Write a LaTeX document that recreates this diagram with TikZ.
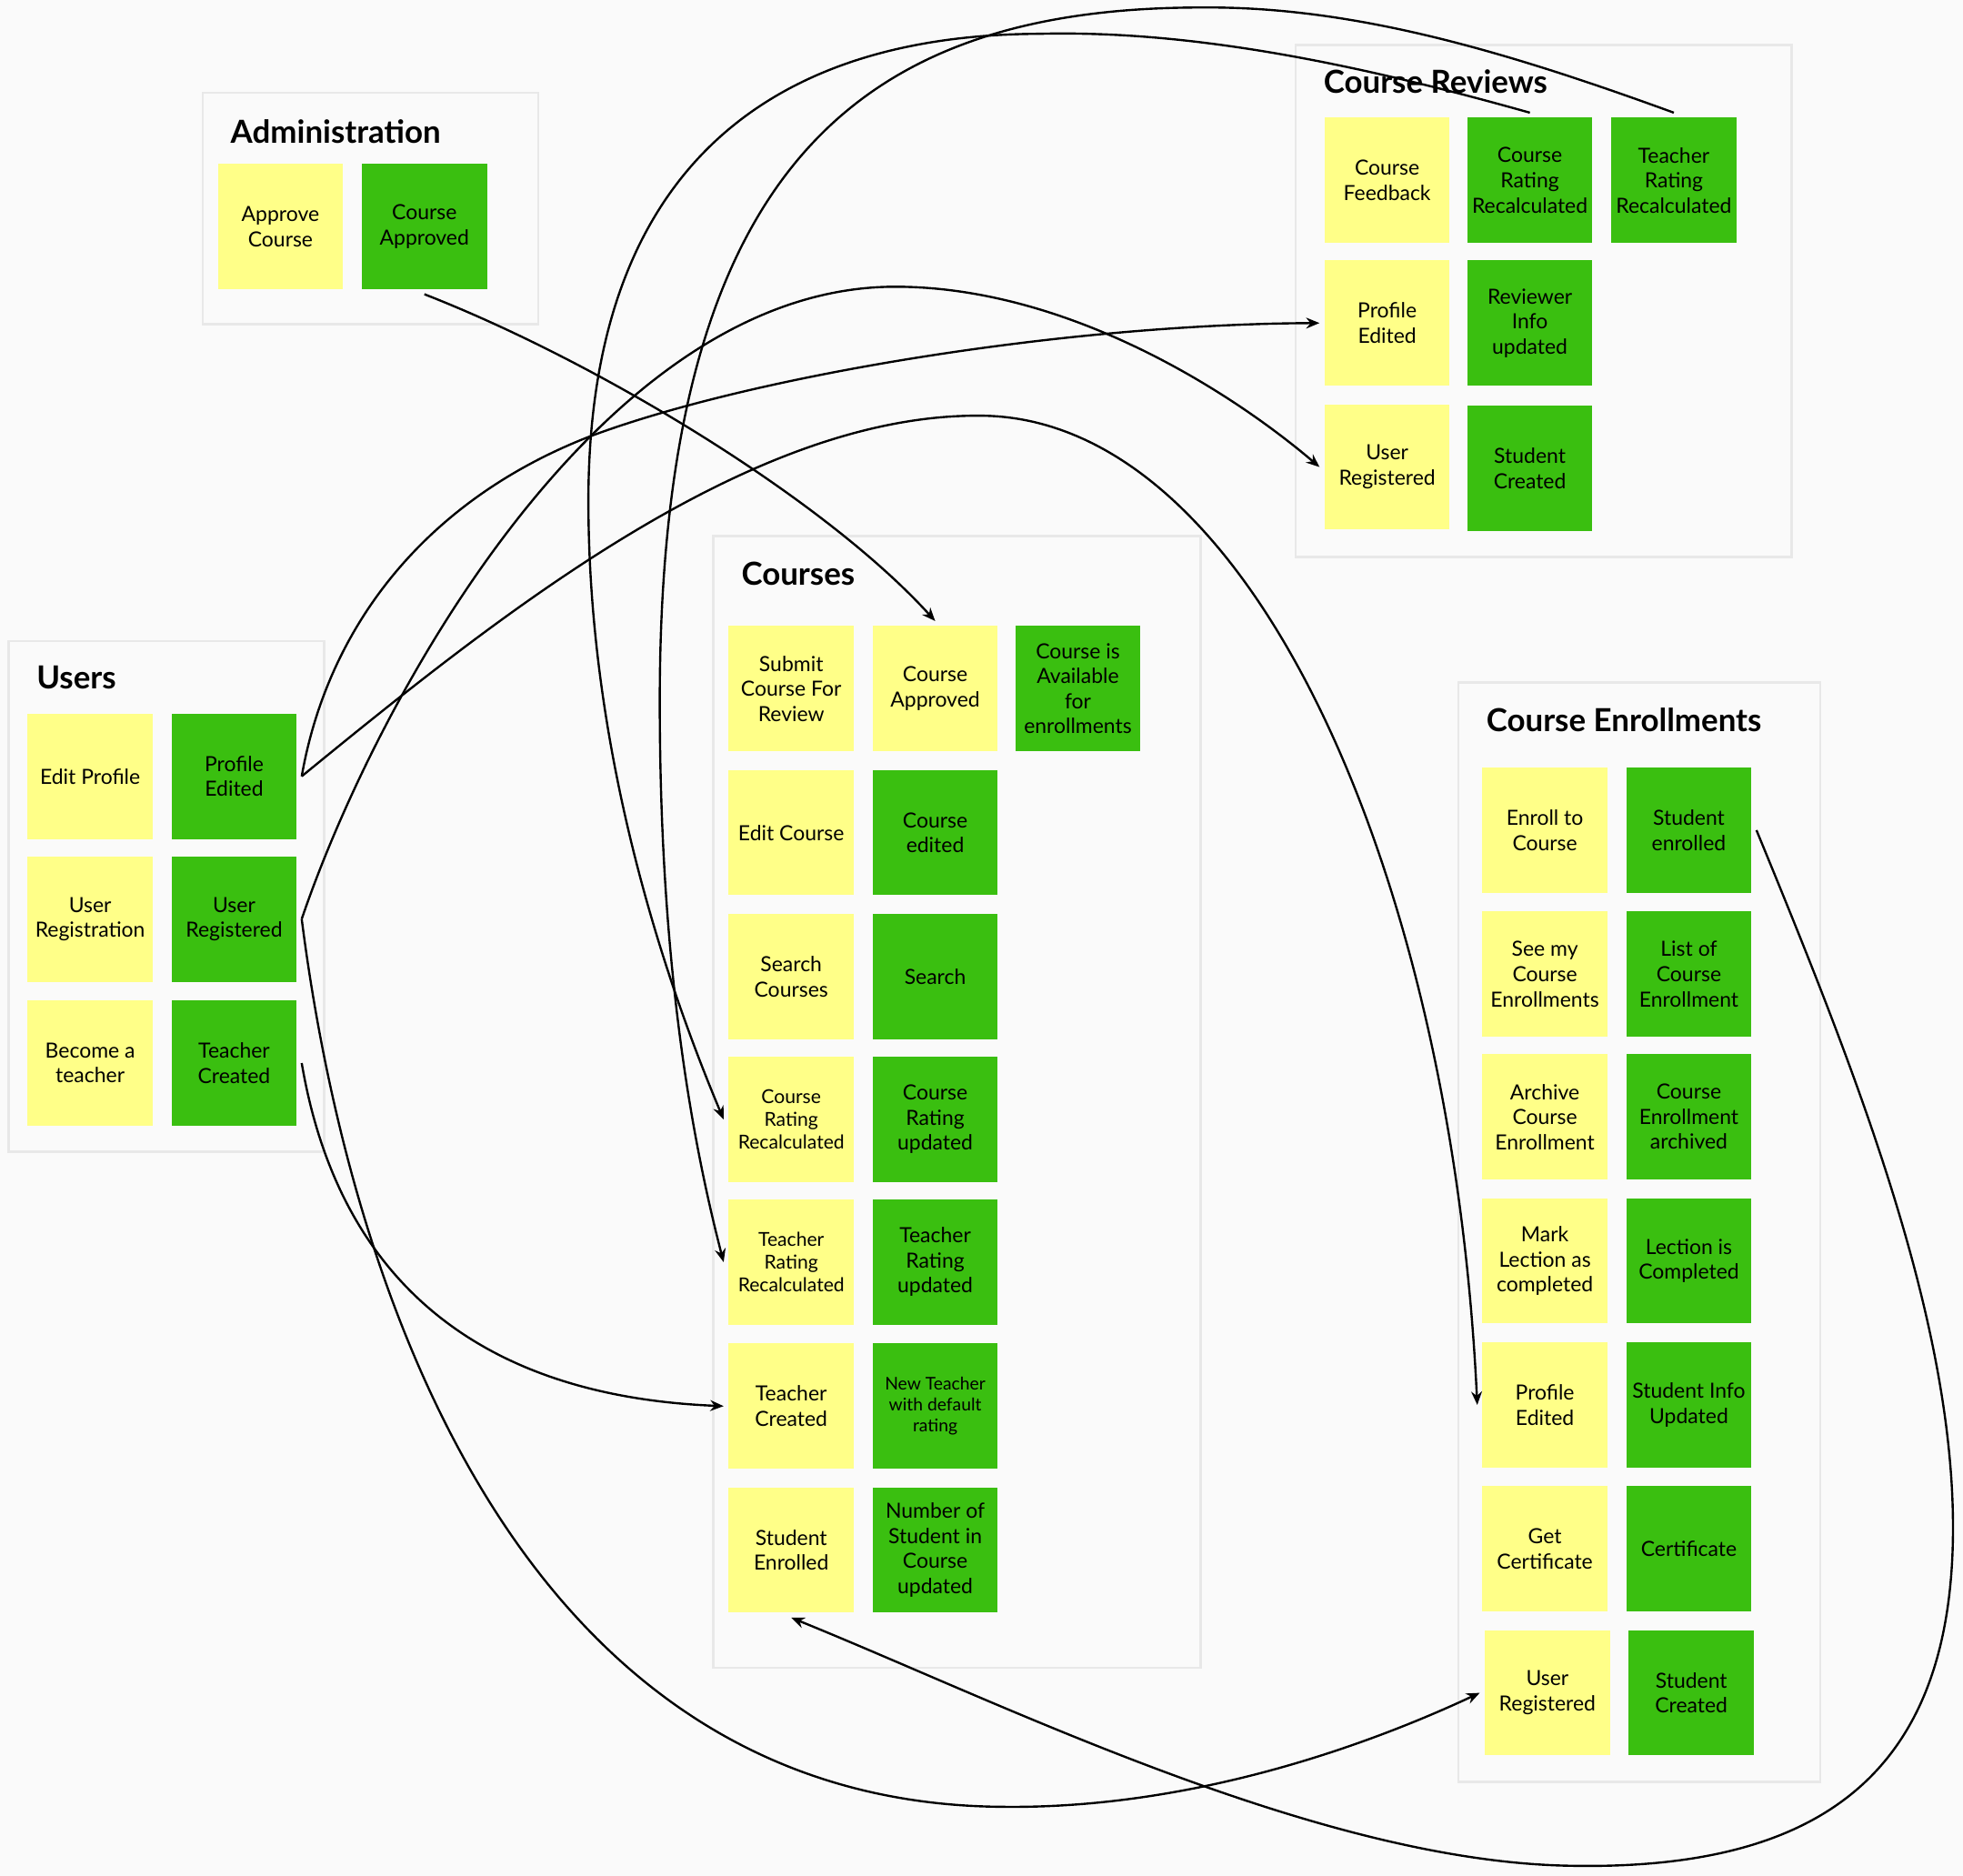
\documentclass[tikz,border=0pt]{standalone}
\usepackage{fontspec}
\setmainfont{Lato}
\usepackage{tikz}
\usetikzlibrary{arrows.meta}

\definecolor{bgcol}{RGB}{250,250,250}
\definecolor{framecol}{RGB}{232,232,232}
\definecolor{stickyyel}{RGB}{255,255,136}
\definecolor{stickygrn}{RGB}{58,191,16}

\tikzset{
  sticky/.style={minimum width=75pt,minimum height=75pt,inner sep=1pt,outer sep=3pt,
    align=center,font=\fontsize{12.5}{15}\selectfont},
  yel/.style={sticky,fill=stickyyel},
  grn/.style={sticky,fill=stickygrn},
  small/.style={font=\fontsize{11.5}{13.5}\selectfont},
  tiny/.style={font=\fontsize{10.5}{12.5}\selectfont},
  groupbox/.style={draw=framecol,line width=1.5pt},
  grouptitle/.style={anchor=west,inner sep=0pt,font=\fontsize{19}{22}\selectfont\bfseries},
  flow/.style={line width=1.3pt,-{Stealth[length=8pt,width=6.5pt]}}
}

\begin{document}
\begin{tikzpicture}[x=0.75pt,y=0.75pt,yscale=-1,xscale=1]
\useasboundingbox[fill=bgcol] (0,0) rectangle (1568,1498);

% Group frames
\draw[groupbox] (162,74) rectangle (430,259);
\draw[groupbox] (1035,36) rectangle (1431,445);
\draw[groupbox] (7,512) rectangle (259,920);
\draw[groupbox] (570,428) rectangle (959,1332);
\draw[groupbox] (1165,545) rectangle (1454,1423);

% Administration
\node[grouptitle] (admtitle) at (184,105) {Administration};
\node[yel] (aapprove) at (224,181) {Approve\\Course};
\node[grn] (aapproved) at (339,181) {Course\\Approved};

% Course Reviews
\node[grouptitle] (revtitle) at (1057,65) {Course Reviews};
\node[yel] (rfeed) at (1108,144) {Course\\Feedback};
\node[grn] (rcrate) at (1222,144) {Course\\Rating\\Recalculated};
\node[grn] (rtrate) at (1337,144) {Teacher\\Rating\\Recalculated};
\node[yel] (rprof) at (1108,258) {Profile\\Edited};
\node[grn] (rinfo) at (1222,258) {Reviewer\\Info\\updated};
\node[yel] (rreg) at (1108,373) {User\\Registered};
\node[grn] (rstud) at (1222,374) {Student\\Created};

% Users
\node[grouptitle] (usrtitle) at (29,541) {Users};
\node[yel] (uedit) at (72,620) {Edit Profile};
\node[grn] (uprof) at (187,620) {Profile\\Edited};
\node[yel] (uregist) at (72,734) {User\\Registration};
\node[grn] (ureg) at (187,734) {User\\Registered};
\node[yel] (ubecome) at (72,849) {Become a\\teacher};
\node[grn] (uteach) at (187,849) {Teacher\\Created};

% Courses
\node[grouptitle] (crstitle) at (592,458) {Courses};
\node[yel] (csubmit) at (632,550) {Submit\\Course For\\Review};
\node[yel] (capproved) at (747,550) {Course\\Approved};
\node[grn] (cavail) at (861,550) {Course is\\Available\\for\\enrollments};
\node[yel] (cedit) at (632,665) {Edit Course};
\node[grn] (cedited) at (747,665) {Course\\edited};
\node[yel] (csearch) at (632,780) {Search\\Courses};
\node[grn] (cfound) at (747,780) {Search};
\node[yel,small] (ccrate) at (632,894) {Course\\Rating\\Recalculated};
\node[grn] (ccrupd) at (747,894) {Course\\Rating\\updated};
\node[yel,small] (ctrate) at (632,1008) {Teacher\\Rating\\Recalculated};
\node[grn] (ctrupd) at (747,1008) {Teacher\\Rating\\updated};
\node[yel] (cteach) at (632,1123) {Teacher\\Created};
\node[grn,tiny] (cnewteach) at (747,1123) {New Teacher\\with default\\rating};
\node[yel] (cstud) at (632,1238) {Student\\Enrolled};
\node[grn] (cnumber) at (747,1238) {Number of\\Student in\\Course\\updated};

% Course Enrollments
\node[grouptitle] (enrtitle) at (1187,575) {Course Enrollments};
\node[yel] (eenroll) at (1234,663) {Enroll to\\Course};
\node[grn] (eenrolled) at (1349,663) {Student\\enrolled};
\node[yel] (esee) at (1234,778) {See my\\Course\\Enrollments};
\node[grn] (elist) at (1349,778) {List of\\Course\\Enrollment};
\node[yel] (earchive) at (1234,892) {Archive\\Course\\Enrollment};
\node[grn] (earchived) at (1349,892) {Course\\Enrollment\\archived};
\node[yel] (emark) at (1234,1007) {Mark\\Lection as\\completed};
\node[grn] (edone) at (1349,1007) {Lection is\\Completed};
\node[yel] (eprof) at (1234,1122) {Profile\\Edited};
\node[grn] (einfo) at (1349,1122) {Student Info\\Updated};
\node[yel] (ecert) at (1234,1237) {Get\\Certificate};
\node[grn] (ecertif) at (1349,1237) {Certificate};
\node[yel] (ereg) at (1236,1352) {User\\Registered};
\node[grn] (estud) at (1351,1352) {Student\\Created};

% Connectors
\draw[flow] (aapproved.south) .. controls (480,290) and (660,400) .. (capproved.north);
\draw[flow] (uprof.east) .. controls (262,500) and (340,400) .. (470,349)
  .. controls (600,300) and (850,259) .. (rprof.west);
\draw[flow] (uprof.east) .. controls (400,490) and (600,330) .. (784,332)
  .. controls (1000,334) and (1160,700) .. (eprof.west);
\draw[flow] (ureg.east) .. controls (300,560) and (480,229) .. (715,229)
  .. controls (850,229) and (980,310) .. (rreg.west);
\draw[flow] (ureg.east) .. controls (280,1040) and (420,1440) .. (800,1443)
  .. controls (950,1445) and (1090,1395) .. (ereg.west);
\draw[flow] (uteach.east) .. controls (270,1020) and (380,1115) .. (cteach.west);
\draw[flow] (rcrate.north) .. controls (1080,50) and (950,24) .. (830,27)
  .. controls (600,28) and (470,150) .. (470,400)
  .. controls (470,600) and (530,780) .. (ccrate.west);
\draw[flow] (rtrate.north) .. controls (1200,40) and (1080,5) .. (960,6)
  .. controls (690,6) and (527,130) .. (527,560)
  .. controls (527,760) and (550,900) .. (ctrate.west);
\draw[flow] (eenrolled.east) .. controls (1480,850) and (1560,1050) .. (1560,1220)
  .. controls (1560,1420) and (1450,1495) .. (1250,1490)
  .. controls (1050,1485) and (800,1360) .. (cstud.south);

\end{tikzpicture}
\end{document}
